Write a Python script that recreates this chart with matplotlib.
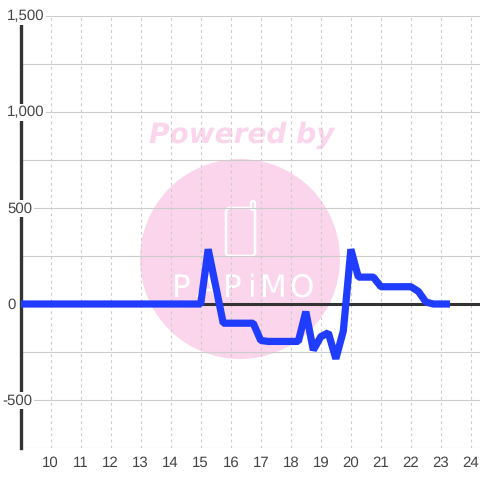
import matplotlib
matplotlib.use('Agg')
from matplotlib import pyplot as plt
from matplotlib.patches import Circle, FancyBboxPatch

# values
hours = [9, 15, 15.25, 15.75, 16.75, 17, 17.25, 18.25, 18.5, 18.75, 19, 19.25, 19.5, 19.75,
         20, 20.25, 20.75, 21, 22, 22.25, 22.5, 22.75, 23.3]
power = [0, 0, 285, -100, -100, -190, -195, -195, -40, -240, -170, -150, -285, -140,
         285, 140, 140, 90, 90, 65, 10, 0, 0]
x_ticks = [10, 11, 12, 13, 14, 15, 16, 17, 18, 19, 20, 21, 22, 23, 24]
y_ticks = [-750, -500, -250, 0, 250, 500, 750, 1000, 1250, 1500]
y_labels = {1500: '1,500', 1000: '1,000', 500: '500', 0: '0', -500: '-500'}
logo_letters = ['P', 'A', 'P', 'i', 'M', 'O']
logo_centres = [181, 206, 232, 251, 273, 301]

pink = '#fbd5ec'
dark = '#333333'
grid = '#cccccc'

plt.rcParams['font.family'] = ['Liberation Sans', 'DejaVu Sans']
plt.rcParams['text.hinting'] = 'no_hinting'
plt.rcParams['text.hinting_factor'] = 1

fig = plt.figure(figsize=(4.8, 4.8), dpi=100)
ax = fig.add_axes([20.5 / 480, 32 / 480, 459.5 / 480, 432 / 480])
ax.patch.set_visible(False)


def fx(px):
    return px / 480


def fy(py):
    return 1 - py / 480


# watermark sits behind the axes
fig.add_artist(Circle((fx(240), fy(259)), 100 / 480, transform=fig.transFigure,
                      facecolor=pink, edgecolor='none', zorder=-2))
fig.text(fx(242), fy(135), 'Powered by', color=pink, fontsize=20.5, family='DejaVu Sans',
         weight='bold', style='italic', ha='center', va='center', zorder=-1)
fig.add_artist(FancyBboxPatch((fx(226), fy(256)), 29 / 480, 48 / 480, boxstyle='round,pad=0,rounding_size=0.008',
                              transform=fig.transFigure, facecolor='none', edgecolor='white', linewidth=1.8, zorder=-1))
fig.add_artist(FancyBboxPatch((fx(251), fy(210)), 4 / 480, 9 / 480, boxstyle='round,pad=0,rounding_size=0.004',
                              transform=fig.transFigure, facecolor=pink, edgecolor='white', linewidth=1.6, zorder=-1))
for letter, px in zip(logo_letters, logo_centres):
    fig.text(fx(px), fy(288), letter, color='white', fontsize=22, family='DejaVu Sans',
             ha='center', va='center', zorder=-1)

ax.plot(hours, power, color='#1f3cff', linewidth=5.2, solid_joinstyle='bevel',
        solid_capstyle='butt', zorder=5)

ax.set_xlim(9, 24.3)
ax.set_ylim(-750, 1500)
ax.set_xticks(x_ticks)
ax.set_yticks(y_ticks)
ax.set_yticklabels([])
ax.tick_params(axis='both', length=0)
ax.tick_params(axis='x', labelsize=10.5, labelcolor='#444444', pad=6)
ax.grid(axis='y', color=grid, linewidth=0.8, zorder=1)
ax.grid(axis='x', color=grid, linewidth=0.8, linestyle=(0, (2.5, 3)), zorder=1)
ax.axhline(0, color=dark, linewidth=2.2, zorder=2)

for spine in ['top', 'right', 'bottom']:
    ax.spines[spine].set_visible(False)
ax.spines['left'].set_color(dark)
ax.spines['left'].set_linewidth(2.4)
ax.spines['left'].set_zorder(3)

# y labels straddle the axis line, with a white box behind them
trans = ax.get_yaxis_transform()
for value, label in y_labels.items():
    left = 2 if value < 0 else 7
    ax.text((left - 20.5) / 459.5, value - 3, label, transform=trans, fontsize=10.5, color='#444444',
            ha='left', va='center', clip_on=False, zorder=4,
            bbox=dict(facecolor='white', edgecolor='none', pad=1.2))

plt.savefig('out.png', dpi=100)
